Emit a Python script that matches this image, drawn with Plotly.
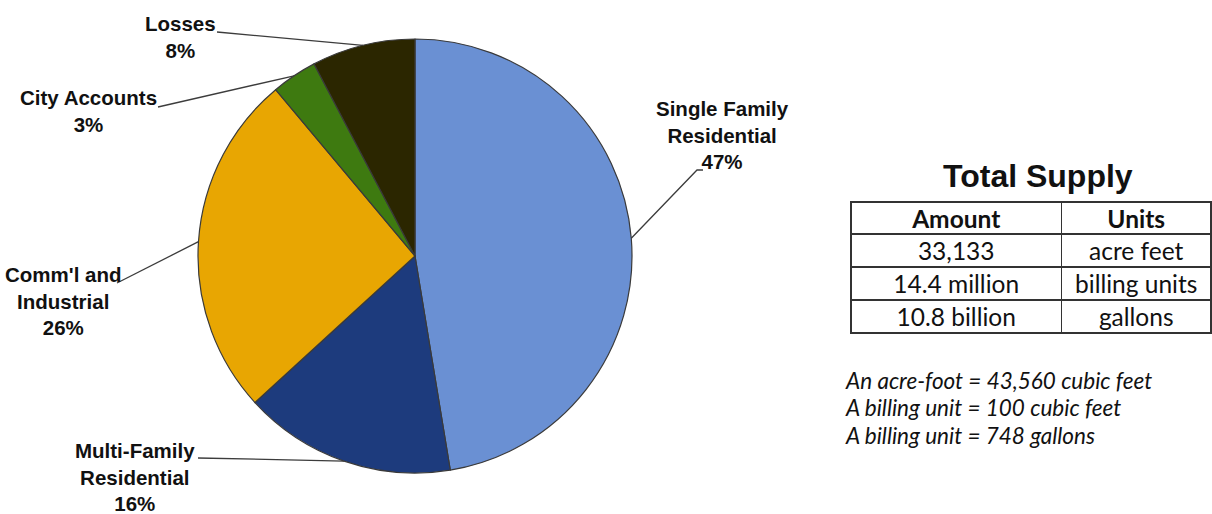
import math
import plotly.graph_objects as go

# ---------------- data ----------------
categories = ["Single Family<br>Residential", "Multi-Family<br>Residential",
              "Comm'l and<br>Industrial", "City Accounts", "Losses"]
shares = [47.4, 15.8, 25.7, 3.4, 7.7]
colors = ["#6a90d3", "#1d3b7d", "#e8a602", "#3e7a10", "#2b2600"]

table_header = ["Amount", "Units"]
table_amount = ["33,133", "14.4 million", "10.8 billion"]
table_units = ["acre feet", "billing units", "gallons"]
table_title = "Total Supply"
notes = ["An acre-foot = 43,560 cubic feet",
         "A billing unit = 100 cubic feet",
         "A billing unit = 748 gallons"]

# ---------------- layout geometry ----------------
W, H = 1212, 514
cx, cy, r = 415, 256, 217

# label text centres and leader line start points (pixel space)
label_xy = [(722, 135), (135, 477), (63, 301), (88, 111), (180, 37)]
leader_start = [[(703, 170), (697, 170)], [(198, 458)], [(117, 283)],
                [(158, 107)], [(217, 32)]]

fig = go.Figure()

fig.add_trace(go.Pie(
    values=shares, labels=categories, sort=False, direction="clockwise",
    rotation=0, textinfo="none", hoverinfo="label+percent",
    marker=dict(colors=colors, line=dict(color="#3a3a3a", width=1.2)),
    domain=dict(x=[(cx - r) / W, (cx + r) / W],
                y=[1 - (cy + r) / H, 1 - (cy - r) / H]),
    showlegend=False,
))

# leader lines, ending at each slice's mid-angle on the rim
total = sum(shares)
cum = 0.0
annotations = []
for i, v in enumerate(shares):
    mid = (cum + v / 2) / total * 2 * math.pi
    cum += v
    ex = cx + r * math.sin(mid)
    ey = cy - r * math.cos(mid)
    pts = leader_start[i] + [(ex, ey)]
    fig.add_trace(go.Scatter(
        x=[p[0] for p in pts], y=[p[1] for p in pts], mode="lines",
        line=dict(color="#3c3c3c", width=1.3), hoverinfo="skip",
        showlegend=False))
    pct = round(v / total * 100)
    annotations.append(dict(
        x=label_xy[i][0], y=label_xy[i][1], xref="x", yref="y",
        text=f"<b>{categories[i]}<br>{pct}%</b>", showarrow=False,
        align="center", xanchor="center", yanchor="middle",
        font=dict(family="Liberation Sans, Arial", size=20.5, color="#111111")))

# table
fig.add_trace(go.Table(
    domain=dict(x=[851 / W, 1.0], y=[0.0, 1 - 202 / H]),
    columnwidth=[211, 150],
    header=dict(values=table_header,
                align="center", height=32,
                line=dict(color="#333333", width=1.5),
                fill=dict(color="white"),
                font=dict(family="Lato", size=24.5, color="#111111",
                          weight=700)),
    cells=dict(values=[table_amount, table_units], align="center", height=33,
               line=dict(color="#333333", width=1.5),
               fill=dict(color="white"),
               font=dict(family="Lato", size=24.5, color="#111111")),
))

annotations.append(dict(
    x=1038, y=176, xref="x", yref="y", text=f"<b>{table_title}</b>",
    showarrow=False, xanchor="center", yanchor="middle",
    font=dict(family="Liberation Sans, Arial", size=32, color="#111111")))

for k, line in enumerate(notes):
    annotations.append(dict(
        x=843, y=380 + 27.5 * k, xref="x", yref="y", text=f"<i>{line}</i>",
        showarrow=False, xanchor="left", yanchor="middle",
        font=dict(family="Lato", size=22.5, color="#111111")))

fig.update_layout(
    width=W, height=H, margin=dict(l=0, r=0, t=0, b=0),
    paper_bgcolor="white", plot_bgcolor="rgba(0,0,0,0)",
    xaxis=dict(range=[0, W], visible=False, fixedrange=True, domain=[0, 1]),
    yaxis=dict(range=[H, 0], visible=False, fixedrange=True, domain=[0, 1]),
    annotations=annotations,
)

fig.write_html("out.html", config={"displayModeBar": False},
               post_script="document.body.style.margin='0px';"
                           "document.body.style.overflow='hidden';")
